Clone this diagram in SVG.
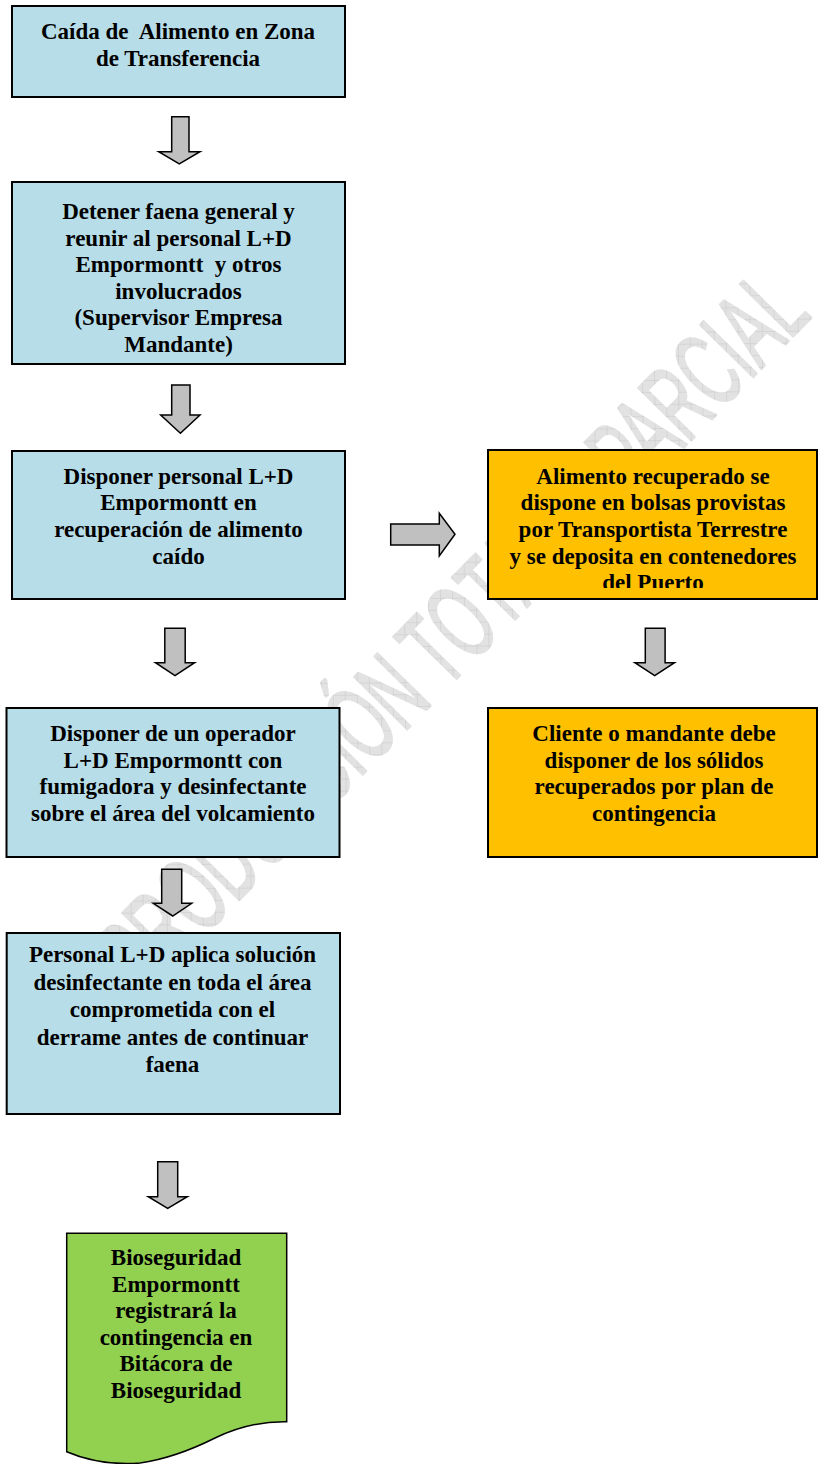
<svg xmlns="http://www.w3.org/2000/svg" width="818" height="1464" viewBox="0 0 818 1464">
<style>
.t{font-family:"Liberation Serif","Times New Roman",serif;font-weight:bold;font-size:23px;fill:#000;text-anchor:middle;white-space:pre}
.blue{fill:#b7dde8;stroke:#000;stroke-width:2}
.orange{fill:#ffc000;stroke:#000;stroke-width:2}
.green{fill:#92d050;stroke:#000;stroke-width:1.5}
.arr{fill:#c0c0c0;stroke:#000;stroke-width:1.5;stroke-linejoin:miter}
.wm{font-family:"Liberation Sans",Arial,sans-serif;font-size:108px;fill:url(#hatch);stroke:url(#hatch);stroke-width:2.5;stroke-linejoin:round}
</style>
<defs>
<pattern id="hatch" width="12" height="12" patternUnits="userSpaceOnUse" patternTransform="rotate(-45)">
<rect width="12" height="12" fill="#e2e2e2"/>
<path d="M0,0 H12 M0,0 V12" stroke="#c8c8c8" stroke-width="1"/>
</pattern>
<clipPath id="clipO1"><rect x="489" y="451" width="328" height="137"/></clipPath>
</defs>
<rect width="818" height="1464" fill="#fff"/>
<g id="watermark">
<text class="wm" transform="translate(84,1058) rotate(-45.5)" x="0" y="0" textLength="1040" lengthAdjust="spacingAndGlyphs">REPRODUCCIÓN TOTAL O PARCIAL</text>
</g>
<g id="connectors">
<path class="arr" d="M171.7,116.7 H189 V151.7 H200 L179.3,164 L158.7,151.7 H171.7 Z"/>
<path class="arr" d="M171.7,385 H190 V415 H200 L180.4,433.3 L160.7,415 H171.7 Z"/>
<path class="arr" d="M390.7,524 H439.3 V513.3 L455,534.3 L439.3,556 V545 H390.7 Z"/>
<path class="arr" d="M164.8,628.3 H185.2 V662.7 H194.6 L175,675.7 L155.5,662.7 H164.8 Z"/>
<path class="arr" d="M645.3,628.3 H665.1 V662.7 H674.5 L654.7,675.7 L634.9,662.7 H645.3 Z"/>
<path class="arr" d="M161.7,869.3 H181.7 V903.3 H191.7 L172.7,916 L153.3,903.3 H161.7 Z"/>
<path class="arr" d="M157.7,1161.7 H177.7 V1196.7 H187.3 L167.7,1208.3 L148.3,1196.7 H157.7 Z"/>
</g>
<g id="n1">
<rect class="blue" x="12" y="6" width="333" height="91"/>
<text class="t" x="178" y="39">Caída de  Alimento en Zona</text>
<text class="t" x="178" y="66">de Transferencia</text>
</g>
<g id="n2">
<rect class="blue" x="12" y="182" width="333" height="182"/>
<text class="t" x="178.5" y="219">Detener faena general y</text>
<text class="t" x="178.5" y="245.6">reunir al personal L+D</text>
<text class="t" x="178.5" y="272.2">Empormontt  y otros</text>
<text class="t" x="178.5" y="298.8">involucrados</text>
<text class="t" x="178.5" y="325.4">(Supervisor Empresa</text>
<text class="t" x="178.5" y="352">Mandante)</text>
</g>
<g id="n3">
<rect class="blue" x="12" y="451" width="333" height="148"/>
<text class="t" x="178.5" y="483.5">Disponer personal L+D</text>
<text class="t" x="178.5" y="510.2">Empormontt en</text>
<text class="t" x="178.5" y="536.9">recuperación de alimento</text>
<text class="t" x="178.5" y="563.6">caído</text>
</g>
<g id="n4">
<rect class="orange" x="488" y="450" width="329" height="149"/>
<g clip-path="url(#clipO1)">
<text class="t" x="653" y="483.5">Alimento recuperado se</text>
<text class="t" x="653" y="510.2">dispone en bolsas provistas</text>
<text class="t" x="653" y="536.9">por Transportista Terrestre</text>
<text class="t" x="653" y="563.6">y se deposita en contenedores</text>
<text class="t" x="653" y="590.3">del Puerto</text>
</g>
</g>
<g id="n5">
<rect class="blue" x="6.5" y="708" width="333" height="149"/>
<text class="t" x="173" y="741">Disponer de un operador</text>
<text class="t" x="173" y="767.7">L+D Empormontt con</text>
<text class="t" x="173" y="794.4">fumigadora y desinfectante</text>
<text class="t" x="173" y="821.1">sobre el área del volcamiento</text>
</g>
<g id="n6">
<rect class="orange" x="488" y="708" width="329" height="149"/>
<text class="t" x="654" y="741">Cliente o mandante debe</text>
<text class="t" x="654" y="767.7">disponer de los sólidos</text>
<text class="t" x="654" y="794.4">recuperados por plan de</text>
<text class="t" x="654" y="821.1">contingencia</text>
</g>
<g id="n7">
<rect class="blue" x="6.7" y="933" width="333.3" height="181"/>
<text class="t" x="172.5" y="962">Personal L+D aplica solución</text>
<text class="t" x="172.5" y="989.5">desinfectante en toda el área</text>
<text class="t" x="172.5" y="1017">comprometida con el</text>
<text class="t" x="172.5" y="1044.5">derrame antes de continuar</text>
<text class="t" x="172.5" y="1072">faena</text>
</g>
<g id="n8">
<path class="green" d="M66.7,1233.3 H286.7 V1421.7 Q250,1421 215,1438 Q175,1458 140,1463 Q100,1466 66.7,1451.7 Z"/>
<text class="t" x="176" y="1265">Bioseguridad</text>
<text class="t" x="176" y="1291.6">Empormontt</text>
<text class="t" x="176" y="1318.2">registrará la</text>
<text class="t" x="176" y="1344.8">contingencia en</text>
<text class="t" x="176" y="1371.4">Bitácora de</text>
<text class="t" x="176" y="1398">Bioseguridad</text>
</g>
</svg>
